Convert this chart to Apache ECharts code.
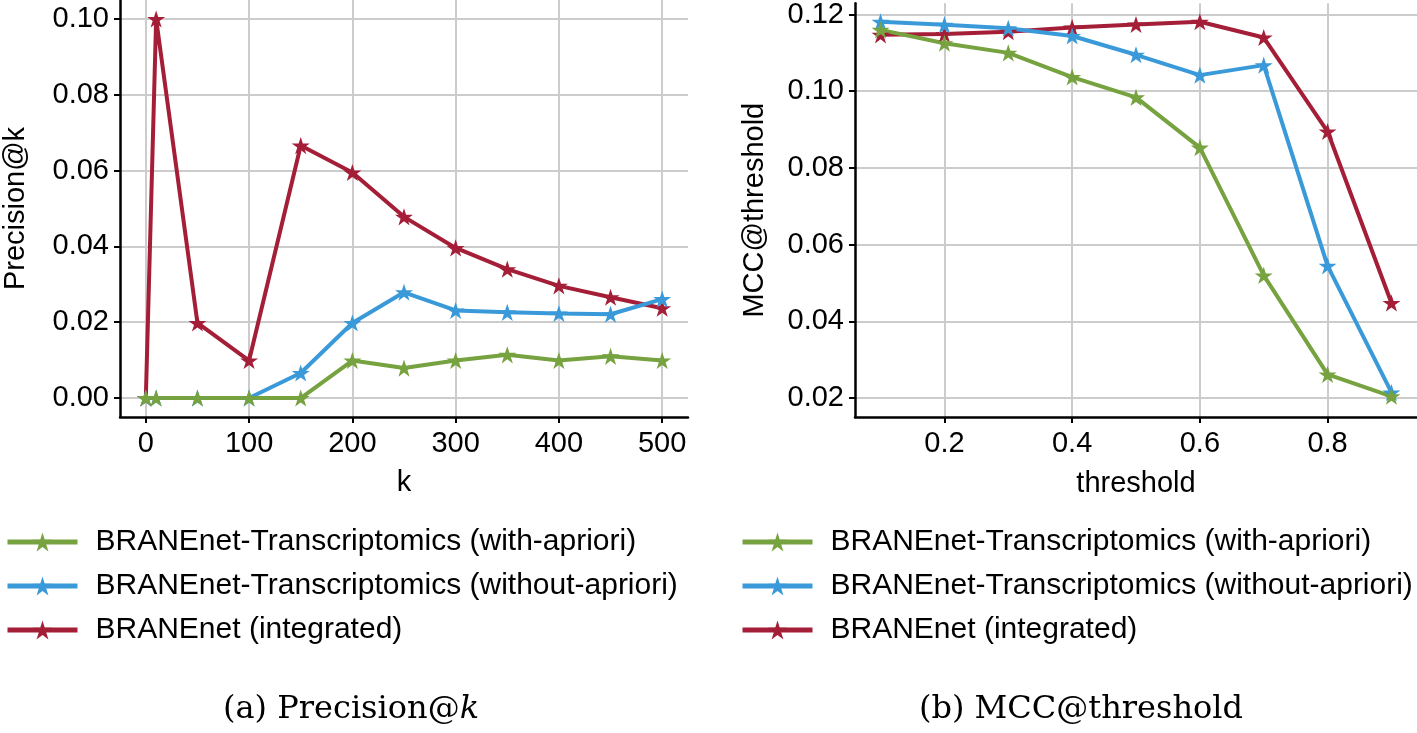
<!DOCTYPE html>
<html>
<head>
<meta charset="utf-8">
<script src="https://cdn.jsdelivr.net/npm/echarts@6/dist/echarts.min.js"></script>
<style>
html,body{margin:0;padding:0;background:#fff;}
#chart{width:1417px;height:733px;}
</style>
</head>
<body>
<div id="chart"></div>
<script>
// ---- data ----
const kValues = [0, 10, 50, 100, 150, 200, 250, 300, 350, 400, 450, 500];
const precWithApriori = [0, 0, 0, 0, 0, 0.0099, 0.0079, 0.0099, 0.0114, 0.0099, 0.0110, 0.0099];
const precWithoutApriori = [0, 0, 0, 0, 0.0066, 0.0198, 0.0279, 0.0231, 0.0226, 0.0223, 0.0221, 0.0261];
const precIntegrated = [0, 0.1000, 0.0198, 0.0099, 0.0666, 0.0595, 0.0478, 0.0396, 0.0340, 0.0296, 0.0266, 0.0237];

const thresholds = [0.1, 0.2, 0.3, 0.4, 0.5, 0.6, 0.7, 0.8, 0.9];
const mccWithApriori = [0.1160, 0.1125, 0.1100, 0.1037, 0.0984, 0.0853, 0.0520, 0.0262, 0.0205];
const mccWithoutApriori = [0.1181, 0.1173, 0.1164, 0.1144, 0.1095, 0.1042, 0.1068, 0.0545, 0.0215];
const mccIntegrated = [0.1147, 0.1149, 0.1155, 0.1166, 0.1174, 0.1181, 0.1140, 0.0895, 0.0448];

const kTicks = [0, 100, 200, 300, 400, 500];
const precTicks = [0, 0.02, 0.04, 0.06, 0.08, 0.10];
const thrTicks = [0.2, 0.4, 0.6, 0.8];
const mccTicks = [0.02, 0.04, 0.06, 0.08, 0.10, 0.12];

const names = [
  'BRANEnet-Transcriptomics (with-apriori)',
  'BRANEnet-Transcriptomics (without-apriori)',
  'BRANEnet (integrated)'
];
const colors = ['#76a23f', '#3a9ad9', '#a41e37'];

// ---- styling ----
const FONT = '"Liberation Sans", Arial, Helvetica, sans-serif';
const SERIF = '"DejaVu Serif", serif';
const STAR = 'path://M100,0 L122.45,69.1 L195.1,69.1 L136.3,111.8 L158.8,180.9 L100,138.2 L41.2,180.9 L63.7,111.8 L4.9,69.1 L77.55,69.1 Z';

function zip(xs, ys) { return xs.map((x, i) => [x, ys[i]]); }

function axisCommon(ticks, digits, margin) {
  return {
    type: 'value',
    axisLine: { show: true, onZero: false, lineStyle: { color: '#000', width: 2.5 } },
    axisTick: { show: true, inside: false, length: 6, customValues: ticks, lineStyle: { color: '#000', width: 2 } },
    axisLabel: { customValues: ticks, color: '#000', fontSize: 29, fontFamily: FONT, margin: margin,
      formatter: v => Number(v).toFixed(digits) },
    splitLine: { show: true, lineStyle: { color: '#cccccc', width: 2 } },
    nameTextStyle: { color: '#000', fontSize: 29, fontFamily: FONT }
  };
}

function makeSeries(name, color, data, xi) {
  return {
    name: name, type: 'line', xAxisIndex: xi, yAxisIndex: xi,
    data: data,
    symbol: STAR, symbolSize: 18, symbolKeepAspect: true,
    showAllSymbol: true,
    lineStyle: { color: color, width: 4 },
    itemStyle: { color: color },
    animation: false
  };
}

const legendCommon = {
  orient: 'vertical',
  top: 522,
  itemWidth: 70,
  itemHeight: 24,
  itemGap: 14,
  data: names,
  selectedMode: false,
  lineStyle: { width: 5 },
  textStyle: { color: '#000', fontSize: 30, fontFamily: FONT, lineHeight: 30, padding: [0, 0, 0, 13] }
};

const option = {
  backgroundColor: '#fff',
  animation: false,
  grid: [
    { left: 118, top: 0, width: 570, height: 417 },
    { left: 855, top: 0, width: 562, height: 417 }
  ],
  xAxis: [
    Object.assign(axisCommon(kTicks, 0, 12), { gridIndex: 0, min: -25, max: 525, name: 'k',
      nameLocation: 'middle', nameGap: 51 }),
    Object.assign(axisCommon(thrTicks, 1, 12), { gridIndex: 1, min: 0.06, max: 0.94, name: 'threshold',
      nameLocation: 'middle', nameGap: 52 })
  ],
  yAxis: [
    Object.assign(axisCommon(precTicks, 2, 11), { gridIndex: 0, min: -0.005, max: 0.105, name: 'Precision@k',
      nameLocation: 'middle', nameGap: 90 }),
    Object.assign(axisCommon(mccTicks, 2, 11), { gridIndex: 1, min: 0.0151, max: 0.1229, name: 'MCC@threshold',
      nameLocation: 'middle', nameGap: 86 })
  ],
  legend: [
    Object.assign({}, legendCommon, { left: 0 }),
    Object.assign({}, legendCommon, { left: 735 })
  ],
  graphic: [
    { type: 'text', x: 351, y: 710, style: {
        text: '(a) Precision@{i|k}', fill: '#000', textAlign: 'center', textVerticalAlign: 'middle',
        fontFamily: SERIF, fontSize: 32,
        rich: { i: { fontStyle: 'italic', fontFamily: SERIF, fontSize: 32, fill: '#000' } } } },
    { type: 'text', x: 1081, y: 710, style: {
        text: '(b) MCC@threshold', fill: '#000', textAlign: 'center', textVerticalAlign: 'middle',
        fontFamily: SERIF, fontSize: 32 } }
  ],
  series: [
    makeSeries(names[2], colors[2], zip(kValues, precIntegrated), 0),
    makeSeries(names[1], colors[1], zip(kValues, precWithoutApriori), 0),
    makeSeries(names[0], colors[0], zip(kValues, precWithApriori), 0),
    makeSeries(names[2], colors[2], zip(thresholds, mccIntegrated), 1),
    makeSeries(names[1], colors[1], zip(thresholds, mccWithoutApriori), 1),
    makeSeries(names[0], colors[0], zip(thresholds, mccWithApriori), 1)
  ]
};

const chart = echarts.init(document.getElementById('chart'), null, { renderer: 'canvas' });
chart.setOption(option);
</script>
</body>
</html>
